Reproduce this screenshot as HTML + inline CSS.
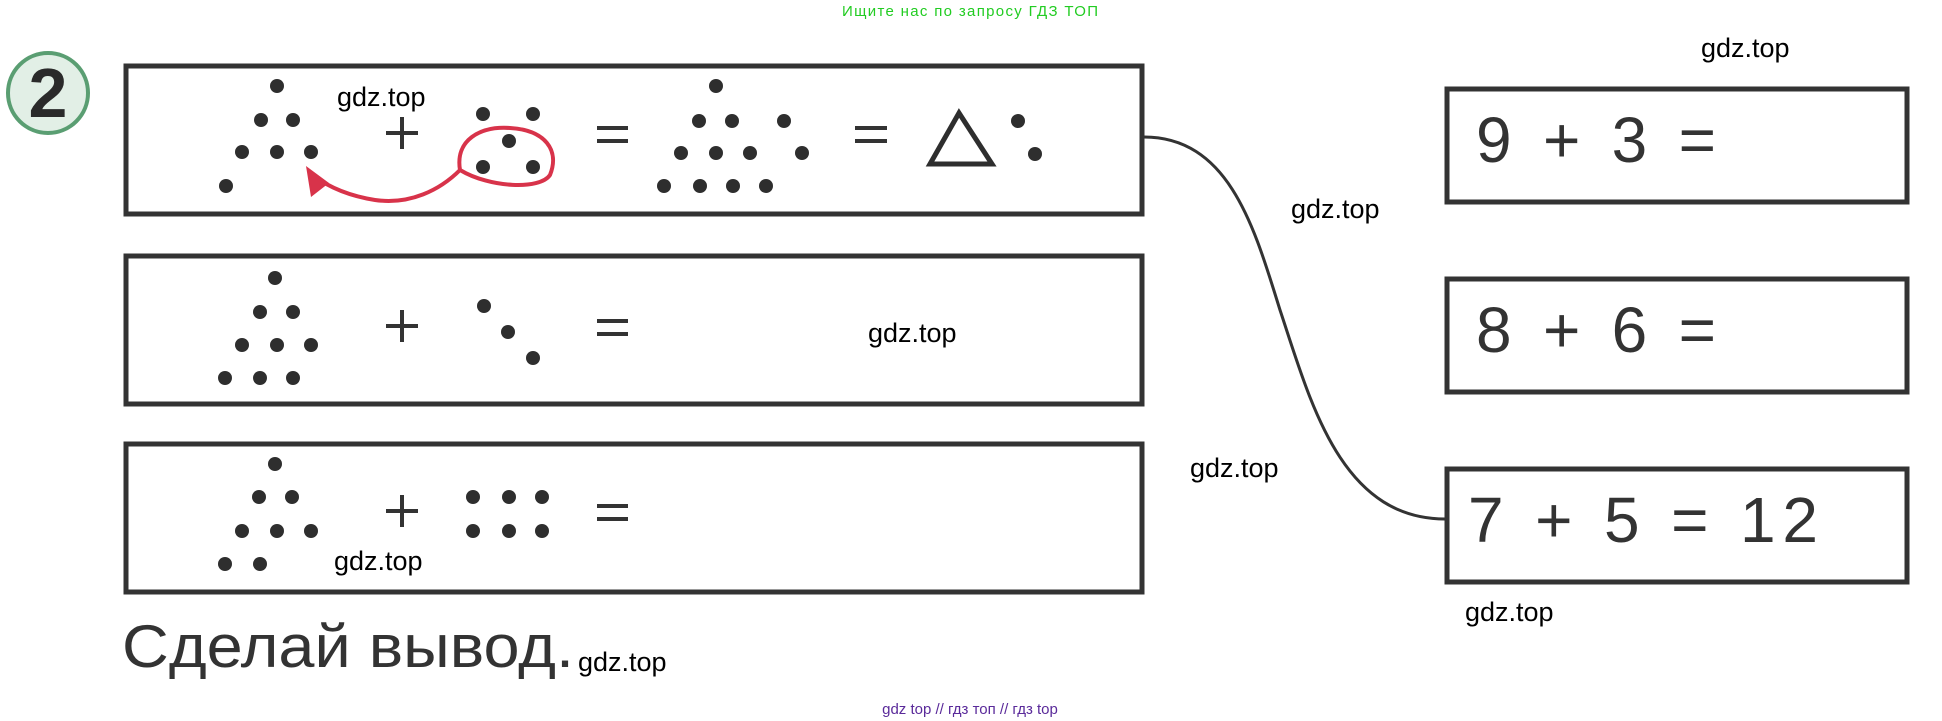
<!DOCTYPE html>
<html><head><meta charset="utf-8"><style>
html,body{margin:0;padding:0;background:#fff;}
body{width:1942px;height:721px;overflow:hidden;position:relative;}
svg{position:absolute;left:0;top:0;}
</style></head><body>
<svg width="1942" height="721" viewBox="0 0 1942 721" xmlns="http://www.w3.org/2000/svg">
<g font-family="Liberation Sans, sans-serif">
<text x="970" y="16" font-size="15" fill="#22cc22" text-anchor="middle" textLength="256">Ищите нас по запросу ГДЗ ТОП</text>
<circle cx="48" cy="93" r="40" fill="#e2efe6" stroke="#5a9e72" stroke-width="4"/>
<text x="48" y="117" font-size="70" font-weight="bold" fill="#2a2a2a" text-anchor="middle">2</text>
<g fill="none" stroke="#333" stroke-width="5">
<rect x="126" y="66" width="1016" height="148"/>
<rect x="126" y="256" width="1016" height="148"/>
<rect x="126" y="444" width="1016" height="148"/>
<rect x="1447" y="89" width="460" height="113"/>
<rect x="1447" y="279" width="460" height="113"/>
<rect x="1447" y="469" width="460" height="113"/>
</g>
<path d="M1144,137 C1230,137 1255,230 1280,310 C1310,400 1340,519 1445,519" fill="none" stroke="#333" stroke-width="3"/>
<g fill="#2e2e2e">
<circle cx="277" cy="86" r="7"/><circle cx="261" cy="120" r="7"/><circle cx="293" cy="120" r="7"/>
<circle cx="242" cy="152" r="7"/><circle cx="277" cy="152" r="7"/><circle cx="311" cy="152" r="7"/><circle cx="226" cy="186" r="7"/>
<circle cx="483" cy="114" r="7"/><circle cx="533" cy="114" r="7"/><circle cx="509" cy="141" r="7"/><circle cx="483" cy="167" r="7"/><circle cx="533" cy="167" r="7"/>
<circle cx="716" cy="86" r="7"/><circle cx="699" cy="121" r="7"/><circle cx="732" cy="121" r="7"/><circle cx="784" cy="121" r="7"/>
<circle cx="681" cy="153" r="7"/><circle cx="716" cy="153" r="7"/><circle cx="750" cy="153" r="7"/><circle cx="802" cy="153" r="7"/>
<circle cx="664" cy="186" r="7"/><circle cx="700" cy="186" r="7"/><circle cx="733" cy="186" r="7"/><circle cx="766" cy="186" r="7"/>
<circle cx="1018" cy="121" r="7"/><circle cx="1035" cy="154" r="7"/>
<circle cx="275" cy="278" r="7"/><circle cx="260" cy="312" r="7"/><circle cx="293" cy="312" r="7"/>
<circle cx="242" cy="345" r="7"/><circle cx="277" cy="345" r="7"/><circle cx="311" cy="345" r="7"/>
<circle cx="225" cy="378" r="7"/><circle cx="260" cy="378" r="7"/><circle cx="293" cy="378" r="7"/>
<circle cx="484" cy="306" r="7"/><circle cx="508" cy="332" r="7"/><circle cx="533" cy="358" r="7"/>
<circle cx="275" cy="464" r="7"/><circle cx="259" cy="497" r="7"/><circle cx="292" cy="497" r="7"/>
<circle cx="242" cy="531" r="7"/><circle cx="277" cy="531" r="7"/><circle cx="311" cy="531" r="7"/>
<circle cx="225" cy="564" r="7"/><circle cx="260" cy="564" r="7"/>
<circle cx="473" cy="497" r="7"/><circle cx="509" cy="497" r="7"/><circle cx="542" cy="497" r="7"/>
<circle cx="473" cy="531" r="7"/><circle cx="509" cy="531" r="7"/><circle cx="542" cy="531" r="7"/>
</g>
<g stroke="#333" stroke-width="4">
<path d="M386,133H418M402,117V149"/><path d="M386,326H418M402,310V342"/><path d="M386,511H418M402,495V527"/>
<path d="M597,128H628M597,141H628"/><path d="M597,321H628M597,334H628"/><path d="M597,506H628M597,519H628"/>
<path d="M855,128H887M855,141H887"/>
</g>
<polygon points="959,113 930,164 992,164" fill="none" stroke="#2e2e2e" stroke-width="5" stroke-linejoin="miter"/>
<path d="M460,170 C455,140 480,126 510,128 C545,130 560,150 550,175 C540,190 490,188 460,170 C440,190 410,205 375,200 C350,196 330,188 314,176" fill="none" stroke="#d8334a" stroke-width="4"/>
<polygon points="306,166 311,197 329,183" fill="#d8334a"/>
<g fill="#000" font-size="27">
<text x="337" y="106">gdz.top</text>
<text x="868" y="342">gdz.top</text>
<text x="334" y="570">gdz.top</text>
<text x="1190" y="477">gdz.top</text>
<text x="1701" y="57">gdz.top</text>
<text x="1291" y="218">gdz.top</text>
<text x="1465" y="621">gdz.top</text>
<text x="578" y="671">gdz.top</text>
</g>
<text x="122" y="667" font-size="60" fill="#333" textLength="452" lengthAdjust="spacingAndGlyphs">Сделай  вывод.</text>
<g font-size="64" fill="#333">
<text x="1476" y="162" textLength="240">9 + 3 =</text>
<text x="1476" y="352" textLength="240">8 + 6 =</text>
<text x="1468" y="542" textLength="350">7 + 5 = 12</text>
</g>
<text x="970" y="714" font-size="15" fill="#5a2a9a" text-anchor="middle">gdz top  //  гдз топ  //  гдз top</text>
</g>
</svg>
</body></html>
